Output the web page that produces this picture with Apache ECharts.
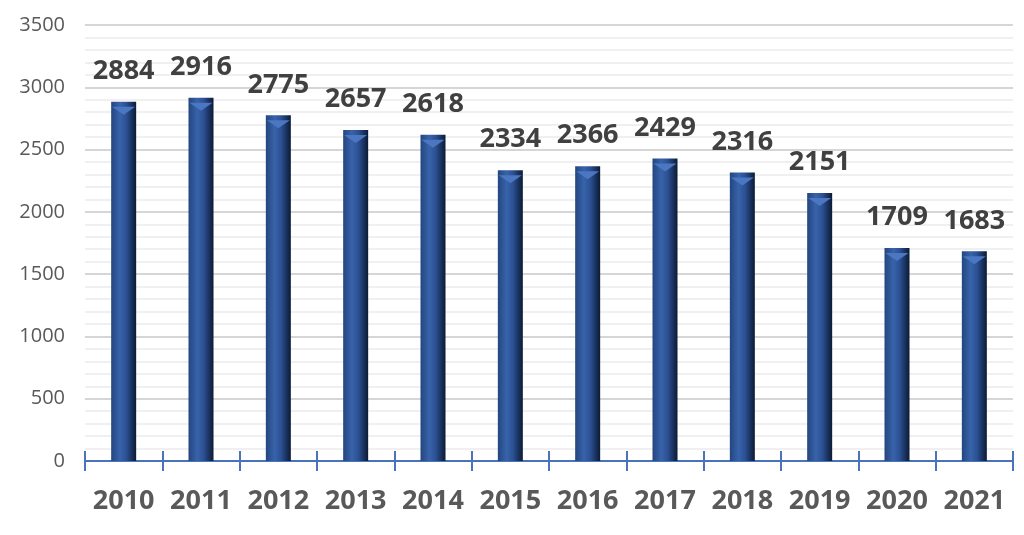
<!DOCTYPE html>
<html><head><meta charset="utf-8">
<script src="https://cdn.jsdelivr.net/npm/echarts@6/dist/echarts.min.js"></script>
<style>html,body{margin:0;padding:0;background:#fff}#c{width:1024px;height:535px}</style>
</head><body><div id="c"></div>
<script>
const years = ['2010','2011','2012','2013','2014','2015','2016','2017','2018','2019','2020','2021'];
const values = [2884,2916,2775,2657,2618,2334,2366,2429,2316,2151,1709,1683];
const yTicks = [0,500,1000,1500,2000,2500,3000,3500];

const chart = echarts.init(document.getElementById('c'), null, {renderer:'canvas'});
const axisBlue = '#4a72bd';
const barGrad = new echarts.graphic.LinearGradient(0,0,1,0,[
  {offset:0,color:'#23467f'},
  {offset:0.35,color:'#3863aa'},
  {offset:0.6,color:'#2c5194'},
  {offset:1,color:'#0c1a35'}
]);
chart.setOption({
  animation:false,
  grid:{left:85,right:11,top:25,bottom:74},
  xAxis:[{
    type:'category', data:years, boundaryGap:true,
    axisLine:{lineStyle:{color:axisBlue,width:2}},
    axisTick:{show:true,length:10,lineStyle:{color:axisBlue,width:2}},
    axisLabel:{interval:0,fontFamily:'Open Sans',fontWeight:'bold',fontSize:27,color:'#595959',margin:27}
  },{
    type:'category', data:years, position:'bottom', boundaryGap:true,
    axisLine:{show:false},
    axisTick:{show:true,inside:true,length:10,lineStyle:{color:axisBlue,width:2}},
    axisLabel:{show:false}
  }],
  yAxis:{
    type:'value', min:yTicks[0], max:yTicks[yTicks.length-1], interval:500,
    axisLine:{show:false}, axisTick:{show:false},
    axisLabel:{fontFamily:'Open Sans',fontSize:20,color:'#595959',margin:20,formatter:v=>String(v)},
    splitLine:{lineStyle:{color:'#d6d6d6',width:2}},
    minorTick:{show:false,splitNumber:5},
    minorSplitLine:{show:true,lineStyle:{color:'#ebebeb',width:1.5}}
  },
  series:[{
    type:'bar', data:values, barWidth:25, z:2,
    itemStyle:{color:barGrad},
    label:{show:true,position:'top',distance:17,fontFamily:'Open Sans',fontWeight:'bold',fontSize:27,color:'#404040'}
  },{
    type:'pictorialBar', data:values, z:3,
    symbol:'path://M0,0 L20,0 L10,8 Z',
    symbolSize:[23,8], symbolPosition:'end', symbolOffset:[0,5],
    itemStyle:{color:'#4a76c2'}, barGap:'-100%'
  }]
});
</script></body></html>
